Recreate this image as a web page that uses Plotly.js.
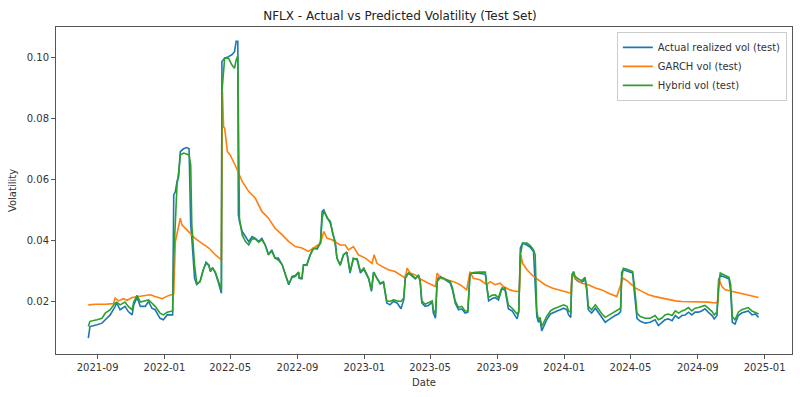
<!DOCTYPE html>
<html>
<head>
<meta charset="utf-8">
<script src="https://cdn.plot.ly/plotly-3.0.1.min.js"></script>
<style>html,body{margin:0;padding:0;background:#fff;}#chart{width:800px;height:397px;}</style>
</head>
<body>
<div id="chart"></div>
<script>
// Shared dates for actual and hybrid series
const datesAH = [
"2021-08-15","2021-08-18","2021-08-31","2021-09-09","2021-09-15","2021-09-24","2021-10-03","2021-10-06","2021-10-12","2021-10-21",
"2021-10-27","2021-11-03","2021-11-06","2021-11-12","2021-11-18","2021-11-27","2021-12-03","2021-12-09","2021-12-15","2021-12-24",
"2021-12-30","2022-01-06","2022-01-16","2022-01-18","2022-01-21","2022-01-24","2022-01-27","2022-01-30","2022-02-05","2022-02-11",
"2022-02-15","2022-02-18","2022-02-20","2022-02-25","2022-03-01","2022-03-07","2022-03-13","2022-03-18","2022-03-23","2022-03-26",
"2022-03-30","2022-04-04","2022-04-09","2022-04-12","2022-04-15","2022-04-16","2022-04-21","2022-04-28","2022-05-04","2022-05-09",
"2022-05-12","2022-05-15","2022-05-16","2022-05-18","2022-05-23","2022-05-29","2022-06-04","2022-06-10","2022-06-16","2022-06-22",
"2022-06-28","2022-07-04","2022-07-10","2022-07-16","2022-07-22","2022-07-28","2022-08-04","2022-08-10","2022-08-16","2022-08-22",
"2022-08-28","2022-09-03","2022-09-04","2022-09-09","2022-09-12","2022-09-18","2022-09-24","2022-09-30","2022-10-07","2022-10-13",
"2022-10-16","2022-10-19","2022-10-25","2022-10-31","2022-11-04","2022-11-09","2022-11-12","2022-11-18","2022-11-24","2022-11-30",
"2022-12-06","2022-12-12","2022-12-19","2022-12-25","2022-12-31","2023-01-09","2023-01-14","2023-01-18","2023-01-24","2023-01-30",
"2023-02-05","2023-02-11","2023-02-17","2023-02-23","2023-03-02","2023-03-09","2023-03-14","2023-03-17","2023-03-23","2023-03-29",
"2023-04-04","2023-04-10","2023-04-13","2023-04-16","2023-04-22","2023-04-28","2023-05-05","2023-05-07","2023-05-11","2023-05-14",
"2023-05-20","2023-05-26","2023-05-31","2023-06-07","2023-06-11","2023-06-16","2023-06-22","2023-06-28","2023-07-04","2023-07-09",
"2023-07-13","2023-07-19","2023-07-29","2023-08-10","2023-08-13","2023-08-16","2023-08-22","2023-08-28","2023-09-03","2023-09-09",
"2023-09-15","2023-09-21","2023-09-28","2023-10-04","2023-10-07","2023-10-10","2023-10-13","2023-10-17","2023-10-25","2023-10-31",
"2023-11-06","2023-11-09","2023-11-12","2023-11-15","2023-11-18","2023-11-21","2023-11-24","2023-11-30","2023-12-07","2023-12-13",
"2023-12-19","2023-12-25","2023-12-31","2024-01-06","2024-01-09","2024-01-13","2024-01-15","2024-01-18","2024-01-21","2024-01-27",
"2024-02-02","2024-02-08","2024-02-11","2024-02-14","2024-02-20","2024-02-27","2024-03-04","2024-03-10","2024-03-16","2024-03-22",
"2024-03-28","2024-04-03","2024-04-09","2024-04-13","2024-04-15","2024-04-18","2024-04-27","2024-05-05","2024-05-08","2024-05-13",
"2024-05-19","2024-05-28","2024-06-06","2024-06-15","2024-06-21","2024-06-27","2024-07-03","2024-07-09","2024-07-16","2024-07-22",
"2024-07-28","2024-08-03","2024-08-09","2024-08-15","2024-08-21","2024-08-27","2024-09-02","2024-09-08","2024-09-14","2024-09-20",
"2024-09-27","2024-10-01","2024-10-06","2024-10-09","2024-10-12","2024-10-21","2024-10-28","2024-10-31","2024-11-03","2024-11-08",
"2024-11-14","2024-11-20","2024-11-26","2024-12-02","2024-12-09","2024-12-15","2024-12-21"
];
const actualVol = [
0.0080,0.0118,0.0124,0.0129,0.0140,0.0156,0.0184,0.0195,0.0173,0.0184,
0.0167,0.0156,0.0189,0.0213,0.0184,0.0184,0.0200,0.0178,0.0173,0.0145,
0.0140,0.0156,0.0156,0.0549,0.0560,0.0593,0.0609,0.0691,0.0700,0.0704,
0.0700,0.0451,0.0407,0.0276,0.0255,0.0265,0.0304,0.0329,0.0320,0.0298,
0.0311,0.0293,0.0265,0.0244,0.0227,0.0986,0.0997,0.1002,0.1008,0.1018,
0.1052,0.1052,0.0484,0.0462,0.0429,0.0413,0.0396,0.0413,0.0407,0.0396,
0.0407,0.0385,0.0353,0.0369,0.0342,0.0342,0.0320,0.0287,0.0255,0.0282,
0.0285,0.0296,0.0276,0.0274,0.0320,0.0320,0.0353,0.0375,0.0372,0.0396,
0.0495,0.0500,0.0473,0.0462,0.0424,0.0396,0.0342,0.0320,0.0353,0.0362,
0.0293,0.0342,0.0336,0.0293,0.0307,0.0274,0.0233,0.0296,0.0274,0.0257,
0.0262,0.0195,0.0189,0.0200,0.0195,0.0176,0.0205,0.0287,0.0293,0.0285,
0.0274,0.0287,0.0265,0.0195,0.0184,0.0187,0.0198,0.0162,0.0145,0.0274,
0.0282,0.0274,0.0268,0.0260,0.0238,0.0195,0.0173,0.0176,0.0162,0.0165,
0.0293,0.0293,0.0293,0.0289,0.0233,0.0202,0.0209,0.0213,0.0205,0.0241,
0.0238,0.0176,0.0169,0.0154,0.0143,0.0165,0.0375,0.0391,0.0385,0.0377,
0.0364,0.0255,0.0151,0.0132,0.0140,0.0104,0.0118,0.0140,0.0159,0.0165,
0.0169,0.0173,0.0178,0.0173,0.0156,0.0148,0.0287,0.0296,0.0274,0.0265,
0.0262,0.0274,0.0238,0.0173,0.0162,0.0178,0.0162,0.0145,0.0132,0.0140,
0.0148,0.0154,0.0159,0.0167,0.0296,0.0304,0.0298,0.0293,0.0233,0.0145,
0.0135,0.0129,0.0132,0.0140,0.0121,0.0129,0.0140,0.0143,0.0137,0.0154,
0.0145,0.0154,0.0156,0.0165,0.0156,0.0165,0.0165,0.0169,0.0176,0.0165,
0.0154,0.0143,0.0154,0.0271,0.0285,0.0279,0.0274,0.0233,0.0132,0.0126,
0.0154,0.0162,0.0165,0.0169,0.0156,0.0159,0.0148
];
const hybridVol = [
0.0118,0.0135,0.0140,0.0145,0.0162,0.0173,0.0195,0.0198,0.0189,0.0198,
0.0184,0.0173,0.0198,0.0220,0.0198,0.0202,0.0205,0.0195,0.0184,0.0162,
0.0156,0.0165,0.0169,0.0342,0.0495,0.0582,0.0625,0.0680,0.0686,0.0682,
0.0680,0.0647,0.0451,0.0320,0.0260,0.0265,0.0304,0.0325,0.0318,0.0300,
0.0309,0.0296,0.0271,0.0249,0.0238,0.0887,0.0997,0.0997,0.0975,0.0964,
0.0991,0.1005,0.0778,0.0473,0.0418,0.0396,0.0385,0.0405,0.0405,0.0394,
0.0402,0.0385,0.0355,0.0364,0.0342,0.0336,0.0320,0.0285,0.0257,0.0279,
0.0282,0.0296,0.0279,0.0276,0.0320,0.0318,0.0351,0.0372,0.0375,0.0391,
0.0473,0.0497,0.0478,0.0456,0.0429,0.0385,0.0342,0.0318,0.0353,0.0362,
0.0298,0.0340,0.0340,0.0298,0.0309,0.0276,0.0238,0.0296,0.0276,0.0260,
0.0265,0.0202,0.0200,0.0205,0.0202,0.0200,0.0211,0.0276,0.0293,0.0287,
0.0276,0.0285,0.0268,0.0202,0.0191,0.0195,0.0202,0.0173,0.0159,0.0265,
0.0279,0.0276,0.0271,0.0265,0.0244,0.0202,0.0180,0.0184,0.0169,0.0169,
0.0289,0.0295,0.0296,0.0296,0.0244,0.0213,0.0220,0.0222,0.0213,0.0244,
0.0244,0.0189,0.0178,0.0165,0.0159,0.0167,0.0353,0.0391,0.0391,0.0383,
0.0369,0.0353,0.0167,0.0140,0.0148,0.0118,0.0129,0.0151,0.0169,0.0176,
0.0180,0.0184,0.0189,0.0184,0.0169,0.0165,0.0276,0.0298,0.0282,0.0274,
0.0268,0.0279,0.0249,0.0184,0.0173,0.0189,0.0173,0.0159,0.0148,0.0154,
0.0162,0.0167,0.0173,0.0178,0.0276,0.0309,0.0304,0.0298,0.0255,0.0162,
0.0151,0.0145,0.0145,0.0154,0.0140,0.0145,0.0156,0.0159,0.0154,0.0169,
0.0162,0.0169,0.0173,0.0180,0.0169,0.0178,0.0180,0.0184,0.0187,0.0178,
0.0167,0.0156,0.0165,0.0244,0.0293,0.0285,0.0279,0.0255,0.0151,0.0140,
0.0165,0.0173,0.0176,0.0180,0.0169,0.0165,0.0159
];
const datesG = [
"2021-08-15","2021-08-28","2021-09-15","2021-09-30","2021-10-03","2021-10-09","2021-10-18","2021-10-25","2021-11-03","2021-11-15",
"2021-11-27","2021-12-06","2021-12-15","2021-12-28","2022-01-09","2022-01-18","2022-01-21","2022-01-30","2022-02-02","2022-02-08",
"2022-02-17","2022-02-26","2022-03-10","2022-03-23","2022-04-04","2022-04-15","2022-04-17","2022-04-19","2022-04-21","2022-04-26",
"2022-05-01","2022-05-10","2022-05-23","2022-06-04","2022-06-16","2022-06-28","2022-07-10","2022-07-22","2022-08-04","2022-08-16",
"2022-08-28","2022-09-09","2022-09-21","2022-10-03","2022-10-13","2022-10-19","2022-10-25","2022-11-03","2022-11-09","2022-11-18",
"2022-11-27","2022-12-03","2022-12-12","2022-12-21","2023-01-03","2023-01-15","2023-01-19","2023-01-24","2023-02-02","2023-02-14",
"2023-02-26","2023-03-11","2023-03-17","2023-03-20","2023-03-26","2023-04-04","2023-04-16","2023-04-28","2023-05-11","2023-05-14",
"2023-05-20","2023-05-31","2023-06-13","2023-06-25","2023-07-07","2023-07-13","2023-07-19","2023-07-31","2023-08-13","2023-08-19",
"2023-08-28","2023-09-06","2023-09-12","2023-09-24","2023-10-04","2023-10-11","2023-10-14","2023-10-17","2023-10-25","2023-11-06",
"2023-11-18","2023-11-27","2023-12-10","2023-12-22","2024-01-03","2024-01-13","2024-01-16","2024-01-21","2024-02-02","2024-02-14",
"2024-02-27","2024-03-10","2024-03-22","2024-04-06","2024-04-14","2024-04-18","2024-04-27","2024-05-10","2024-05-22","2024-06-03",
"2024-06-15","2024-06-27","2024-07-09","2024-07-22","2024-08-03","2024-08-15","2024-08-27","2024-09-08","2024-09-20","2024-10-03",
"2024-10-08","2024-10-10","2024-10-15","2024-10-21","2024-11-02","2024-11-14","2024-11-26","2024-12-09","2024-12-21"
];
const garchVol = [
0.0189,0.0191,0.0191,0.0193,0.0211,0.0202,0.0209,0.0204,0.0213,0.0216,
0.0220,0.0222,0.0216,0.0209,0.0220,0.0224,0.0396,0.0473,0.0451,0.0440,
0.0424,0.0407,0.0391,0.0375,0.0353,0.0336,0.0887,0.0773,0.0767,0.0691,
0.0680,0.0647,0.0593,0.0560,0.0538,0.0495,0.0473,0.0440,0.0418,0.0396,
0.0380,0.0375,0.0364,0.0380,0.0391,0.0429,0.0407,0.0402,0.0396,0.0385,
0.0385,0.0369,0.0380,0.0353,0.0342,0.0325,0.0353,0.0325,0.0315,0.0304,
0.0298,0.0282,0.0276,0.0309,0.0293,0.0287,0.0271,0.0260,0.0249,0.0293,
0.0276,0.0271,0.0265,0.0255,0.0238,0.0298,0.0276,0.0271,0.0255,0.0265,
0.0255,0.0260,0.0249,0.0238,0.0233,0.0233,0.0353,0.0325,0.0304,0.0282,
0.0265,0.0255,0.0244,0.0238,0.0233,0.0227,0.0293,0.0276,0.0260,0.0255,
0.0244,0.0238,0.0227,0.0216,0.0260,0.0276,0.0265,0.0244,0.0233,0.0222,
0.0216,0.0211,0.0205,0.0202,0.0200,0.0200,0.0200,0.0198,0.0198,0.0195,
0.0200,0.0271,0.0249,0.0238,0.0233,0.0227,0.0222,0.0216,0.0213
];
const seriesNames = ["Actual realized vol (test)","GARCH vol (test)","Hybrid vol (test)"];
const xTicks = ["2021-09-01","2022-01-01","2022-05-01","2022-09-01","2023-01-01","2023-05-01","2023-09-01","2024-01-01","2024-05-01","2024-09-01","2025-01-01"];
const yTicks = [0.02,0.04,0.06,0.08,0.10];

const traces = [
  {x: datesAH, y: actualVol, name: seriesNames[0], type: "scatter", mode: "lines", line: {color: "#1f77b4", width: 1.6}},
  {x: datesG, y: garchVol, name: seriesNames[1], type: "scatter", mode: "lines", line: {color: "#ff7f0e", width: 1.6}},
  {x: datesAH, y: hybridVol, name: seriesNames[2], type: "scatter", mode: "lines", line: {color: "#2ca02c", width: 1.6}}
];
const font = "DejaVu Sans, sans-serif";
const layout = {
  width: 800, height: 397,
  margin: {l: 56, r: 8, t: 27, b: 43, pad: 0},
  paper_bgcolor: "#fff", plot_bgcolor: "#fff",
  font: {family: font, size: 10, color: "#333"},
  title: {text: "NFLX - Actual vs Predicted Volatility (Test Set)", font: {family: font, size: 12, color: "#222"}, x: 0.5, xanchor: "center", y: 0.96, yanchor: "middle"},
  showlegend: true,
  legend: {x: 0.993, xanchor: "right", y: 0.985, yanchor: "top", bgcolor: "rgba(255,255,255,0.9)", bordercolor: "#ccc", borderwidth: 1, font: {family: font, size: 10, color: "#333"}, itemwidth: 30, tracegroupgap: 0},
  xaxis: {
    type: "date", range: ["2021-06-17", "2025-02-20"],
    tickvals: xTicks, tickformat: "%Y-%m",
    showgrid: false, zeroline: false,
    showline: true, mirror: true, linecolor: "#555", linewidth: 1,
    ticks: "outside", ticklen: 4, tickcolor: "#555",
    title: {text: "Date", font: {family: font, size: 10, color: "#333"}, standoff: 6}
  },
  yaxis: {
    range: [0.0028, 0.1099],
    tickvals: yTicks, tickformat: ".2f",
    showgrid: false, zeroline: false,
    showline: true, mirror: true, linecolor: "#555", linewidth: 1,
    ticks: "outside", ticklen: 4, tickcolor: "#555",
    title: {text: "Volatility", font: {family: font, size: 10, color: "#333"}, standoff: 8}
  }
};
Plotly.newPlot("chart", traces, layout, {staticPlot: true, displayModeBar: false});
</script>
</body>
</html>
